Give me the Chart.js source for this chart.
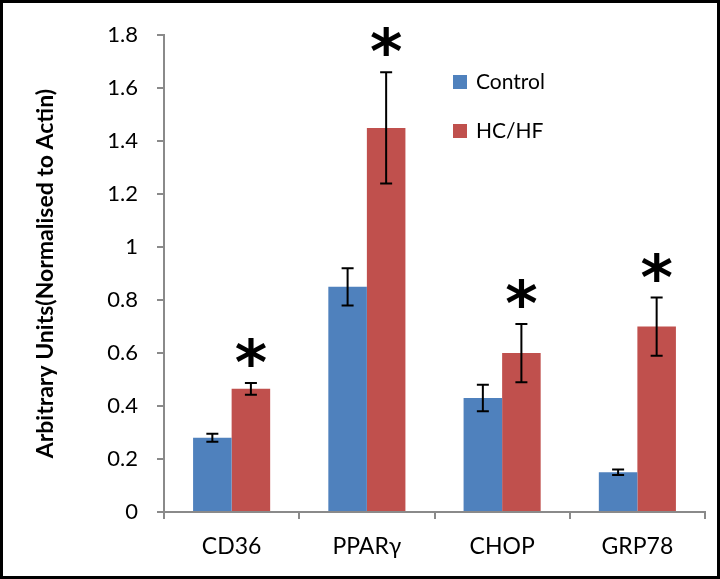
<!DOCTYPE html>
<html>
<head>
<meta charset="utf-8">
<script src="https://cdn.jsdelivr.net/npm/chart.js@4/dist/chart.umd.min.js"></script>
<style>
    html, body { margin: 0; padding: 0; background: #fff; }
    #frame {
        width: 720px;
        height: 579px;
        box-sizing: border-box;
        border: 3px solid #000;
        background: #fff;
    }
    #chart { display: block; }
</style>
</head>
<body>
<div id="frame">
    <canvas id="chart" width="714" height="573"></canvas>
</div>
<script>
const genes = ["CD36", "PPARγ", "CHOP", "GRP78"];
const controlValues = [0.28, 0.85, 0.43, 0.15];
const controlErrors = [0.015, 0.07, 0.05, 0.01];
const hchfValues = [0.465, 1.45, 0.60, 0.70];
const hchfErrors = [0.022, 0.21, 0.11, 0.11];
const significant = [true, true, true, true];
const yTicks = [0, 0.2, 0.4, 0.6, 0.8, 1, 1.2, 1.4, 1.6, 1.8];

const blue = "#4F81BD";
const red = "#C0504D";
const axisGrey = "#8a8a8a";
const fontFamily = "Lato, 'Open Sans', sans-serif";

// error bars + significance stars drawn on top of the bars
const errorBarPlugin = {
    id: "errorBars",
    afterDatasetsDraw(chart) {
        const ctx = chart.ctx;
        const y = chart.scales.y;
        ctx.save();
        chart.data.datasets.forEach((ds, di) => {
            const meta = chart.getDatasetMeta(di);
            meta.data.forEach((bar, i) => {
                const v = ds.data[i];
                const e = ds.errors[i];
                const yTop = y.getPixelForValue(v + e);
                const yBot = y.getPixelForValue(v - e);
                ctx.strokeStyle = "#000";
                ctx.lineWidth = 2;
                ctx.beginPath();
                ctx.moveTo(bar.x, yTop);
                ctx.lineTo(bar.x, yBot);
                ctx.moveTo(bar.x - 6, yTop);
                ctx.lineTo(bar.x + 6, yTop);
                ctx.moveTo(bar.x - 6, yBot);
                ctx.lineTo(bar.x + 6, yBot);
                ctx.stroke();
                if (ds.stars && ds.stars[i]) {
                    ctx.fillStyle = "#000";
                    ctx.font = "bold 62px 'DejaVu Sans', sans-serif";
                    ctx.textAlign = "center";
                    ctx.textBaseline = "top";
                    ctx.fillText("*", bar.x, yTop - 46);
                }
            });
        });
        ctx.restore();
    }
};

// legend inside the plot, top right
const legendPlugin = {
    id: "insideLegend",
    afterDraw(chart) {
        const ctx = chart.ctx;
        ctx.save();
        ctx.font = "21px " + fontFamily;
        ctx.textBaseline = "middle";
        ctx.textAlign = "left";
        chart.data.datasets.forEach((ds, i) => {
            const cy = 79 + i * 49;
            ctx.fillStyle = ds.backgroundColor;
            ctx.fillRect(450, cy - 7, 14, 14);
            ctx.fillStyle = "#000";
            ctx.fillText(ds.label, 473, cy);
        });
        ctx.restore();
    }
};

new Chart("chart", {
    type: "bar",
    data: {
        labels: genes,
        datasets: [{
            label: "Control",
            data: controlValues,
            errors: controlErrors,
            backgroundColor: blue,
            categoryPercentage: 0.57,
            barPercentage: 1.0
        }, {
            label: "HC/HF",
            data: hchfValues,
            errors: hchfErrors,
            stars: significant,
            backgroundColor: red,
            categoryPercentage: 0.57,
            barPercentage: 1.0
        }]
    },
    options: {
        responsive: false,
        animation: false,
        layout: { padding: { top: 30, right: 12, left: 0, bottom: 0 } },
        plugins: {
            legend: { display: false },
            tooltip: { enabled: false }
        },
        scales: {
            x: {
                grid: {
                    drawOnChartArea: false,
                    drawTicks: true,
                    tickLength: 7,
                    color: axisGrey,
                    lineWidth: 2
                },
                border: { color: axisGrey, width: 2 },
                ticks: {
                    color: "#000",
                    padding: 14,
                    font: { family: fontFamily, size: 23 }
                },
                afterFit(scale) { scale.height = 64; }
            },
            y: {
                min: 0,
                max: 1.8,
                afterBuildTicks(scale) {
                    scale.ticks = yTicks.map(v => ({ value: v }));
                },
                grid: {
                    drawOnChartArea: false,
                    drawTicks: true,
                    tickLength: 7,
                    color: axisGrey,
                    lineWidth: 2
                },
                border: { color: axisGrey, width: 2 },
                ticks: {
                    color: "#000",
                    padding: 19,
                    font: { family: fontFamily, size: 22 },
                    callback: v => String(Math.round(v * 10) / 10)
                },
                title: {
                    display: true,
                    text: "Arbitrary Units(Normalised to Actin)",
                    color: "#000",
                    padding: { top: 29, bottom: 0 },
                    font: { family: fontFamily, size: 23, weight: "bold" }
                },
                afterFit(scale) { scale.width = 161; }
            }
        }
    },
    plugins: [errorBarPlugin, legendPlugin]
});
</script>
</body>
</html>
